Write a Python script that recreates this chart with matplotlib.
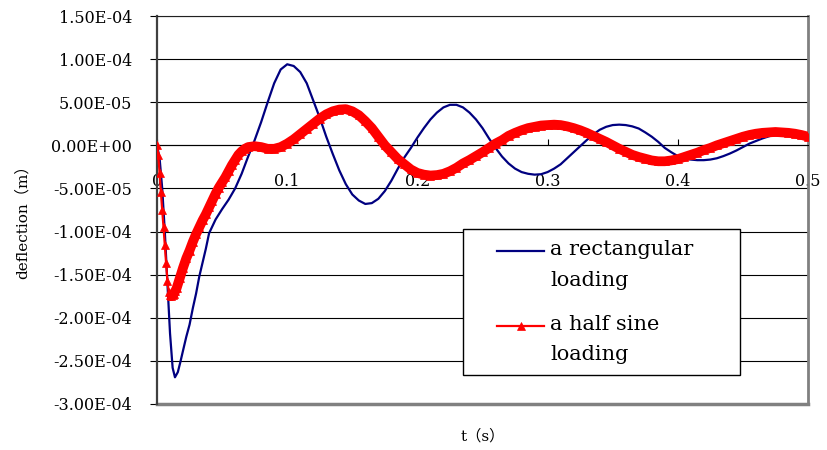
import matplotlib

matplotlib.use("Agg")
import matplotlib.pyplot as plt
import numpy as np
from matplotlib.legend_handler import HandlerLine2D

# rectangular loading response (blue), 1e-5 m
rect_t = [0, 0.002, 0.004, 0.006, 0.008, 0.010, 0.012, 0.0138, 0.016, 0.018,
          0.020, 0.0225, 0.025, 0.0275, 0.030, 0.0325, 0.035, 0.0375, 0.040, 0.045,
          0.050, 0.055, 0.060, 0.065, 0.070, 0.075, 0.080, 0.085, 0.090, 0.095,
          0.100, 0.105, 0.110, 0.115, 0.120, 0.125, 0.130, 0.135, 0.140, 0.145,
          0.150, 0.155, 0.160, 0.165, 0.170, 0.175, 0.180, 0.185, 0.190, 0.195,
          0.200, 0.205, 0.210, 0.215, 0.220, 0.225, 0.230, 0.235, 0.240, 0.245,
          0.250, 0.255, 0.260, 0.265, 0.270, 0.275, 0.280, 0.285, 0.290, 0.295,
          0.300, 0.305, 0.310, 0.315, 0.320, 0.325, 0.330, 0.335, 0.340, 0.345,
          0.350, 0.355, 0.360, 0.365, 0.370, 0.375, 0.380, 0.385, 0.390, 0.395,
          0.400, 0.405, 0.410, 0.415, 0.420, 0.425, 0.430, 0.435, 0.440, 0.445,
          0.450, 0.455, 0.460, 0.465, 0.470, 0.475, 0.480, 0.485, 0.490, 0.495, 0.500]
rect_y = [0, -1.5, -5.0, -10.0, -16.0, -21.8, -25.8, -26.9, -26.3, -25.1,
          -23.8, -22.2, -20.8, -18.9, -17.2, -15.2, -13.6, -12.0, -10.2, -8.6,
          -7.4, -6.3, -5.0, -3.3, -1.3, 0.6, 2.7, 5.0, 7.2, 8.8,
          9.4, 9.2, 8.5, 7.2, 5.2, 3.2, 1.0, -1.0, -2.9, -4.5,
          -5.7, -6.4, -6.8, -6.7, -6.2, -5.3, -4.1, -2.7, -1.4, -0.3,
          0.9, 2.0, 3.0, 3.8, 4.4, 4.7, 4.7, 4.4, 3.8, 3.0,
          2.0, 0.8, -0.3, -1.3, -2.1, -2.7, -3.1, -3.3, -3.4, -3.35,
          -3.1, -2.7, -2.2, -1.5, -0.8, -0.1, 0.6, 1.25, 1.8, 2.15,
          2.35, 2.4, 2.35, 2.2, 1.95, 1.5, 1.0, 0.4, -0.3, -0.8,
          -1.25, -1.5, -1.65, -1.72, -1.72, -1.65, -1.5, -1.25, -0.95, -0.6,
          -0.2, 0.2, 0.5, 0.8, 1.05, 1.25, 1.35, 1.4, 1.4, 1.3, 1.2]

# half sine loading response (red), 1e-5 m
sine_t = [0, 0.001, 0.002, 0.003, 0.004, 0.005, 0.006, 0.007, 0.008, 0.009,
          0.010, 0.011, 0.012, 0.013, 0.014, 0.015, 0.0175, 0.020, 0.0225, 0.025,
          0.0275, 0.030, 0.0325, 0.035, 0.0375, 0.040, 0.0425, 0.045, 0.0475, 0.050,
          0.0525, 0.055, 0.0575, 0.060, 0.0625, 0.065, 0.0675, 0.070, 0.075, 0.080,
          0.085, 0.090, 0.095, 0.100, 0.105, 0.110, 0.115, 0.120, 0.125, 0.130,
          0.135, 0.140, 0.145, 0.150, 0.155, 0.160, 0.165, 0.170, 0.175, 0.180,
          0.185, 0.190, 0.195, 0.200, 0.205, 0.210, 0.215, 0.220, 0.225, 0.230,
          0.235, 0.240, 0.245, 0.250, 0.255, 0.260, 0.265, 0.270, 0.275, 0.280,
          0.285, 0.290, 0.295, 0.300, 0.305, 0.310, 0.315, 0.320, 0.325, 0.330,
          0.335, 0.340, 0.345, 0.350, 0.355, 0.360, 0.365, 0.370, 0.375, 0.380,
          0.385, 0.390, 0.395, 0.400, 0.405, 0.410, 0.415, 0.420, 0.425, 0.430,
          0.435, 0.440, 0.445, 0.450, 0.455, 0.460, 0.465, 0.470, 0.475, 0.480,
          0.485, 0.490, 0.495, 0.500]
sine_y = [0, -1.16, -3.25, -5.45, -7.54, -9.5, -11.6, -13.7, -15.7, -17.0,
          -17.4, -17.5, -17.4, -17.2, -16.9, -16.6, -15.4, -14.2, -13.1, -12.2,
          -11.2, -10.3, -9.5, -8.7, -8.0, -7.2, -6.4, -5.6, -4.9, -4.3,
          -3.7, -3.0, -2.3, -1.7, -1.1, -0.7, -0.4, -0.2, -0.1, -0.2,
          -0.4, -0.4, -0.2, 0.2, 0.7, 1.3, 1.9, 2.5, 3.1, 3.6,
          3.95, 4.15, 4.2, 3.95, 3.5, 2.8, 2.0, 1.0, 0.0, -0.8,
          -1.6, -2.2, -2.8, -3.2, -3.4, -3.5, -3.45, -3.3, -3.0, -2.6,
          -2.1, -1.7, -1.25, -0.8, -0.3, 0.2, 0.6, 1.1, 1.45, 1.75,
          2.0, 2.15, 2.3, 2.35, 2.4, 2.35, 2.2, 2.0, 1.75, 1.45,
          1.1, 0.75, 0.4, 0.0, -0.4, -0.75, -1.1, -1.35, -1.55, -1.75,
          -1.85, -1.85, -1.75, -1.6, -1.35, -1.1, -0.85, -0.55, -0.3, 0.0,
          0.25, 0.5, 0.75, 1.0, 1.2, 1.35, 1.45, 1.5, 1.55, 1.5,
          1.45, 1.35, 1.2, 1.0]

x_ticks = [0, 0.1, 0.2, 0.3, 0.4, 0.5]
x_labels = ["0", "0.1", "0.2", "0.3", "0.4", "0.5"]
y_ticks = [1.5e-4, 1.0e-4, 5.0e-5, 0.0, -5.0e-5, -1.0e-4, -1.5e-4, -2.0e-4, -2.5e-4, -3.0e-4]
y_labels = ["1.50E-04", "1.00E-04", "5.00E-05", "0.00E+00", "-5.00E-05",
            "-1.00E-04", "-1.50E-04", "-2.00E-04", "-2.50E-04", "-3.00E-04"]

RECT_COLOR = "#000080"
SINE_COLOR = "#FF0000"
plt.rcParams["font.family"] = ["DejaVu Serif", "Noto Sans CJK SC"]


class OffsetLineHandler(HandlerLine2D):
    """Legend line at the right end of the handle box, level with the first text line."""

    def __init__(self, line_len, dy, **kw):
        super().__init__(**kw)
        self.line_len = line_len
        self.dy = dy

    def create_artists(self, legend, orig_handle, xdescent, ydescent, width, height, fontsize, trans):
        artists = super().create_artists(legend, orig_handle, xdescent, ydescent,
                                         width, height, fontsize, trans)
        x1 = width - xdescent
        x0 = x1 - self.line_len
        for a in artists:
            y = np.asarray(a.get_ydata(), dtype=float) + self.dy
            a.set_data(np.linspace(x0, x1, len(y)), y)
        return artists


fig = plt.figure(figsize=(8.27, 4.5), dpi=100)
W, H = 827, 450
ax = fig.add_axes([157 / W, 1 - 404 / H, 651 / W, 388 / H])

rect_line, = ax.plot(rect_t, [v * 1e-5 for v in rect_y], color=RECT_COLOR, linewidth=1.6, zorder=3)

# dense triangle markers merge into a thick band once the curve slows down
sine_m = [v * 1e-5 for v in sine_y]
band_start = sine_t.index(0.010)
ax.plot(sine_t[band_start:], sine_m[band_start:], color=SINE_COLOR, linewidth=7,
        solid_capstyle="butt", zorder=4)
sine_line, = ax.plot(sine_t, sine_m, color=SINE_COLOR, linewidth=1.6, marker="^",
                     markersize=6, markeredgewidth=0.5, zorder=5)

ax.set_xlim(0, 0.5)
ax.set_ylim(-3e-4, 1.5e-4)
ax.set_xticks(x_ticks)
ax.set_xticklabels(x_labels)
ax.set_yticks(y_ticks)
ax.set_yticklabels(y_labels)
ax.yaxis.grid(True, color="black", linewidth=0.8)
ax.set_axisbelow(True)

ax.spines["bottom"].set_position(("data", 0))
ax.spines["bottom"].set_color("black")
ax.spines["bottom"].set_linewidth(0.8)
ax.spines["left"].set_color("#404040")
ax.spines["left"].set_linewidth(1.6)
ax.spines["top"].set_color("#202020")
ax.spines["top"].set_linewidth(0.8)
ax.spines["right"].set_color("#808080")
ax.spines["right"].set_linewidth(2)
ax.axhline(-3e-4, color="#808080", linewidth=2.5, clip_on=False, zorder=2)

ax.tick_params(axis="x", direction="in", length=4, width=0.8, pad=20, labelsize=11.5)
ax.tick_params(axis="y", direction="out", length=5, width=0.8, pad=13, labelsize=11.5)

ax.set_xlabel("t（s）", fontsize=11)
ax.set_ylabel("deflection（m）", fontsize=11)
ax.xaxis.set_label_coords(0.5, -0.065)
ax.yaxis.set_label_coords(-0.195, 0.48)

LEG_FS = 15
handler = OffsetLineHandler(line_len=34, dy=10)
leg = ax.legend([rect_line, sine_line], ["a rectangular\nloading", "a half sine\nloading"],
                loc="upper left", bbox_to_anchor=(0.470, 0.072, 0.4255, 0.379),
                mode="expand", fontsize=LEG_FS, frameon=True, fancybox=False,
                framealpha=1, edgecolor="black", handlelength=3.35,
                handletextpad=0.3, borderpad=0.55, labelspacing=1.2,
                numpoints=1, borderaxespad=0,
                handler_map={rect_line: handler, sine_line: handler})
leg.get_frame().set_linewidth(1.0)
for txt in leg.get_texts():
    txt.set_linespacing(1.75)

fig.savefig("out.png", dpi=100)
